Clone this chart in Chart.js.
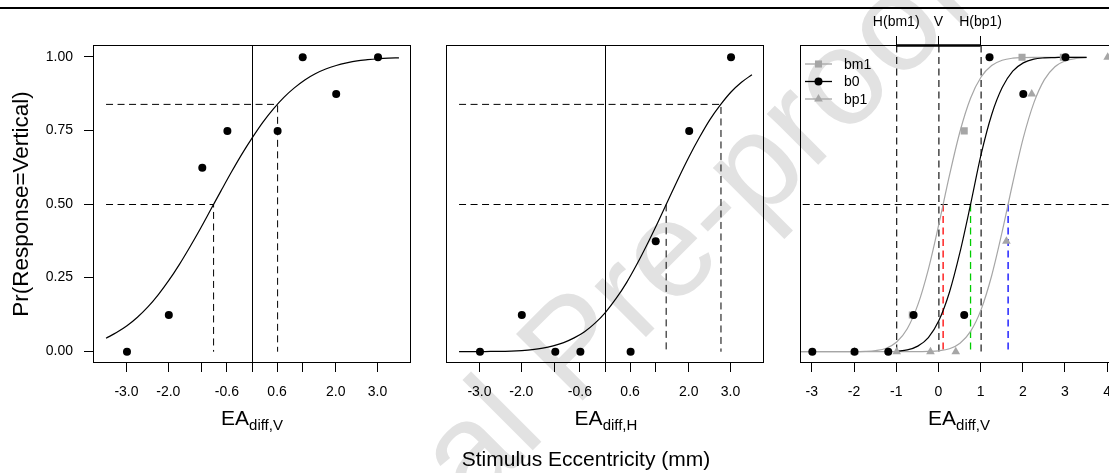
<!DOCTYPE html>
<html>
<head>
<meta charset="utf-8">
<script src="https://cdn.jsdelivr.net/npm/chart.js@4.4.1/dist/chart.umd.min.js"></script>
<style>
  html, body { margin: 0; padding: 0; width: 1109px; height: 473px; overflow: hidden; background: #fff; }
  body { position: relative; font-family: "Liberation Sans", Arial, sans-serif; color: #000; }
  canvas { position: absolute; top: 0; display: block; }
  .rule { position: absolute; left: 0; top: 7px; width: 1109px; height: 2px; background: #000; }
  .xt { position: absolute; top: 407px; font-size: 21px; line-height: 21px; white-space: nowrap; transform: translateX(-50%); }
  .xt sub { font-size: 15px; vertical-align: -5px; }
  .main { position: absolute; top: 448px; left: 586px; font-size: 21px; line-height: 21px; white-space: nowrap; transform: translateX(-50%); }
  .wm { position: absolute; left: 148px; top: 671px; font-size: 137px; line-height: 137px; color: #e2e2e2; white-space: nowrap; transform-origin: 0 0; transform: rotate(-45deg); }
</style>
</head>
<body>
<div class="wm">Journal Pre-proof</div>
<div class="rule"></div>
<canvas id="c1" width="430" height="473" style="left:0px"></canvas>
<canvas id="c2" width="355" height="473" style="left:430px"></canvas>
<canvas id="c3" width="345" height="473" style="left:785px"></canvas>
<div class="xt" style="left:252px">EA<sub>diff,V</sub></div>
<div class="xt" style="left:606px">EA<sub>diff,H</sub></div>
<div class="xt" style="left:959px">EA<sub>diff,V</sub></div>
<div class="main">Stimulus Eccentricity (mm)</div>

<script>
// stimulus levels and observed proportions
const levels = [-3, -2, -1.2, -0.6, 0.6, 1.2, 2, 3];
const propV = [0, 0.125, 0.625, 0.75, 0.75, 1, 0.875, 1];
const propH = [0, 0.125, 0, 0, 0, 0.375, 0.75, 1];

// fitted curves
const fitX = [-3.5, -3.25, -3, -2.75, -2.5, -2.25, -2, -1.75, -1.5, -1.25, -1, -0.75, -0.5, -0.25, 0,
  0.25, 0.5, 0.75, 1, 1.25, 1.5, 1.75, 2, 2.25, 2.5, 2.75, 3, 3.25, 3.5];
const fitV = [0.046, 0.065, 0.088, 0.117, 0.152, 0.194, 0.242, 0.296, 0.355, 0.417, 0.482, 0.547, 0.611, 0.672, 0.728,
  0.780, 0.825, 0.864, 0.896, 0.923, 0.944, 0.960, 0.972, 0.981, 0.988, 0.992, 0.995, 0.997, 0.998];
const fitH = [0, 0, 0, 0.001, 0.001, 0.002, 0.004, 0.007, 0.012, 0.020, 0.031, 0.047, 0.068, 0.097, 0.134,
  0.180, 0.234, 0.297, 0.366, 0.439, 0.515, 0.591, 0.663, 0.729, 0.789, 0.839, 0.882, 0.915, 0.941];

// panel 3: three conditions
const pB0 = [0, 0, 0, 0.125, 0.125, 1, 0.875, 1];
const xBm1 = [-0.63, 0.6, 1.97, 2.95];
const yBm1 = [0.125, 0.75, 1, 1];
const xBp1 = [-2, -1, -0.2, 0.4, 1.6, 2.2, 4];
const yBp1 = [0, 0, 0, 0, 0.375, 0.875, 1];
const fitBm1 = [0, 0, 0, 0, 0, 0, 0, 0.001, 0.004, 0.012, 0.033, 0.078, 0.159, 0.280, 0.434,
  0.599, 0.748, 0.861, 0.933, 0.972, 0.990, 0.997, 0.999, 1, 1, 1, 1, 1, 1];
const fitB0 = [null, null, null, null, null, null, null, null, null, null, 0.002, 0.006, 0.019, 0.048, 0.106,
  0.202, 0.338, 0.5, 0.67, 0.805, 0.897, 0.953, 0.981, 0.994, 0.998, 0.999, 1, 1, 1];
const fitBp1 = [0, 0, 0, 0, 0, 0, 0, 0, 0, 0, 0, 0, 0, 0.001, 0.003,
  0.010, 0.029, 0.069, 0.143, 0.258, 0.408, 0.573, 0.726, 0.845, 0.924, 0.968, 0.988, 0.996, 0.999];

// thresholds (x where curve hits 50% and 84%)
const midLevel = 0.5, hiLevel = 0.84;
const p1Mid = -0.93, p1Hi = 0.6;
const p2Mid = 1.45, p2Hi = 2.76;
const p3Refs = [-1, 0, 1];
const p3RefLabels = ["H(bm1)", "V", "H(bp1)"];
const p3Mid = [0.1, 0.75, 1.64];
const p3MidColors = ["#ff0000", "#00cd00", "#0000ff"];

// axis ticks
const tickPos = [-3, -2, -1.2, -0.6, 0, 0.6, 1.2, 2, 3];
const tickLab = ["-3.0", "-2.0", "", "-0.6", "", "0.6", "", "2.0", "3.0"];
const tickPos3 = [-3, -2, -1, 0, 1, 2, 3, 4];
const tickLab3 = ["-3", "-2", "-1", "0", "1", "2", "3", "4"];
const yTicks = [0, 0.25, 0.5, 0.75, 1];

const FONT = '"Liberation Sans", Arial, sans-serif';
const GRAY = "#a6a6a6";
const DASH = [7, 4.5];
const TOP = 45, BOTTOM = 363, H = 473;
Chart.defaults.font.family = FONT;
Chart.defaults.color = "#000";

function pts(xs, ys) {
  return xs.map((x, i) => ({ x: x, y: ys[i] })).filter(p => p.y !== null);
}

function marks(xs, ys, style, radius, color, order) {
  return { data: pts(xs, ys), pointStyle: style, pointRadius: radius, pointBackgroundColor: color,
    pointBorderWidth: 0, showLine: false, order: order };
}

function line(data, color, width, dash, order) {
  return { data: data, showLine: true, borderColor: color, borderWidth: width, borderDash: dash || [],
    pointRadius: 0, fill: false, order: order };
}

function curve(ys, color, order) {
  const d = line(pts(fitX, ys), color, 1.2, null, order);
  d.cubicInterpolationMode = "monotone";
  return d;
}

function xAxis(min, max, ticks, labels) {
  return {
    type: "linear", position: "bottom", min: min, max: max, bounds: "data",
    afterBuildTicks: s => { s.ticks = ticks.map(v => ({ value: v })); },
    afterFit: s => { s.height = H - BOTTOM; },
    grid: { drawOnChartArea: false, drawTicks: true, tickLength: 9, color: "#000", lineWidth: 1 },
    border: { display: false },
    ticks: { autoSkip: false, maxRotation: 0, minRotation: 0, padding: 12, color: "#000",
      font: { size: 14 }, callback: (v, i) => labels[i] }
  };
}

function yAxis(show) {
  const ax = { type: "linear", min: -0.04, max: 1.04, bounds: "data", display: show,
    afterBuildTicks: s => { s.ticks = yTicks.map(v => ({ value: v })); } };
  if (show) {
    Object.assign(ax, {
      afterFit: s => { s.width = 93; },
      grid: { drawOnChartArea: false, drawTicks: true, tickLength: 9, color: "#000" },
      border: { display: false },
      ticks: { padding: 11, color: "#000", font: { size: 14 }, callback: v => v.toFixed(2) },
      title: { display: true, text: "Pr(Response=Vertical)", color: "#000", font: { size: 22.5 },
        padding: { top: 8, bottom: 0 } }
    });
  }
  return ax;
}

// box around the plot; datasets are shifted half a pixel so 1px lines stay sharp
const framePlugin = {
  id: "frame",
  beforeDatasetsDraw(chart) {
    chart.ctx.save();
    chart.ctx.translate(0.5, 0.5);
  },
  afterDatasetsDraw(chart) {
    chart.ctx.restore();
  },
  afterDraw(chart) {
    const { ctx, chartArea: a } = chart;
    ctx.save();
    ctx.strokeStyle = "#000";
    ctx.lineWidth = 1;
    ctx.strokeRect(a.left + 0.5, a.top + 0.5, a.right - a.left - 1, a.bottom - a.top - 1);
    ctx.restore();
  }
};

const legendItems = [
  { label: "bm1", color: GRAY, style: "rect", radius: 5 },
  { label: "b0", color: "#000", style: "circle", radius: 4 },
  { label: "bp1", color: GRAY, style: "triangle", radius: 5 }
];

const panel3Plugin = {
  id: "panel3",
  afterDraw(chart) {
    const { ctx, chartArea: a } = chart;
    const xs = chart.scales.x;
    ctx.save();
    // top axis line between first and last reference tick
    ctx.strokeStyle = "#000";
    ctx.lineWidth = 2.5;
    ctx.beginPath();
    ctx.moveTo(xs.getPixelForValue(p3Refs[0]), a.top + 0.5);
    ctx.lineTo(xs.getPixelForValue(p3Refs[p3Refs.length - 1]), a.top + 0.5);
    ctx.stroke();
    // legend
    const rows = [64, 81.5, 99];
    ctx.font = "14px " + FONT;
    ctx.textBaseline = "middle";
    legendItems.forEach((it, i) => {
      const y = rows[i];
      ctx.strokeStyle = it.color;
      ctx.fillStyle = it.color;
      ctx.lineWidth = 1.3;
      ctx.beginPath();
      ctx.moveTo(a.left + 5, y);
      ctx.lineTo(a.left + 32, y);
      ctx.stroke();
      Chart.helpers.drawPoint(ctx, { pointStyle: it.style, radius: it.radius, rotation: 0, borderWidth: 0 }, a.left + 18.5, y);
      ctx.fillStyle = "#000";
      ctx.fillText(it.label, a.left + 44, y + 1);
    });
    ctx.restore();
  }
};

function baseOptions(padding, scales) {
  return {
    responsive: false, animation: false, devicePixelRatio: 1,
    layout: { padding: padding },
    plugins: { legend: { display: false }, tooltip: { enabled: false } },
    scales: scales
  };
}

// panel 1
new Chart(document.getElementById("c1"), {
  type: "scatter",
  data: { datasets: [
    marks(levels, propV, "circle", 4, "#000", 0),
    curve(fitV, "#000", 1),
    line([{ x: 0, y: -0.04 }, { x: 0, y: 1.04 }], "#000", 1, null, 2),
    line([{ x: -3.5, y: midLevel }, { x: p1Mid, y: midLevel }, { x: p1Mid, y: 0 }], "#000", 1, DASH, 3),
    line([{ x: -3.5, y: hiLevel }, { x: p1Hi, y: hiLevel }, { x: p1Hi, y: 0 }], "#000", 1, DASH, 3)
  ] },
  options: baseOptions({ left: 0, top: TOP, right: 19, bottom: 0 },
    { x: xAxis(-3.8, 3.8, tickPos, tickLab), y: yAxis(true) }),
  plugins: [framePlugin]
});

// panel 2
new Chart(document.getElementById("c2"), {
  type: "scatter",
  data: { datasets: [
    marks(levels, propH, "circle", 4, "#000", 0),
    curve(fitH, "#000", 1),
    line([{ x: 0, y: -0.04 }, { x: 0, y: 1.04 }], "#000", 1, null, 2),
    line([{ x: -3.5, y: midLevel }, { x: p2Mid, y: midLevel }, { x: p2Mid, y: 0 }], "#000", 1, DASH, 3),
    line([{ x: -3.5, y: hiLevel }, { x: p2Hi, y: hiLevel }, { x: p2Hi, y: 0 }], "#000", 1, DASH, 3)
  ] },
  options: baseOptions({ left: 16, top: TOP, right: 21, bottom: 0 },
    { x: xAxis(-3.8, 3.8, tickPos, tickLab), y: yAxis(false) }),
  plugins: [framePlugin]
});

// panel 3
const p3Sets = [
  marks(levels, pB0, "circle", 4, "#000", 0),
  marks(xBm1, yBm1, "rect", 5, GRAY, 1),
  marks(xBp1, yBp1, "triangle", 5, GRAY, 1),
  curve(fitB0, "#000", 2),
  curve(fitBm1, GRAY, 3),
  curve(fitBp1, GRAY, 3),
  line([{ x: -3.5, y: midLevel }, { x: 4.5, y: midLevel }], "#000", 1, DASH, 4)
];
p3Refs.forEach(v => p3Sets.push(line([{ x: v, y: 1.04 }, { x: v, y: 0 }], "#000", 1.1, DASH, 4)));
p3Mid.forEach((v, i) => p3Sets.push(line([{ x: v, y: midLevel }, { x: v, y: 0 }], p3MidColors[i], 1.3, DASH, 4)));

const x3 = xAxis(-3.28, 4.28, tickPos3, tickLab3);
const xTop = {
  type: "linear", position: "top", min: -3.28, max: 4.28, bounds: "data",
  afterBuildTicks: s => { s.ticks = p3Refs.map(v => ({ value: v })); },
  afterFit: s => { s.height = TOP; },
  grid: { drawOnChartArea: false, drawTicks: true, tickLength: 9, color: "#000" },
  border: { display: false },
  ticks: { autoSkip: false, maxRotation: 0, padding: 5, color: "#000", font: { size: 14 },
    callback: (v, i) => p3RefLabels[i] }
};

new Chart(document.getElementById("c3"), {
  type: "scatter",
  data: { datasets: p3Sets },
  options: baseOptions({ left: 15, top: 0, right: 11, bottom: 0 },
    { x: x3, xTop: xTop, y: yAxis(false) }),
  plugins: [framePlugin, panel3Plugin]
});
</script>
</body>
</html>
